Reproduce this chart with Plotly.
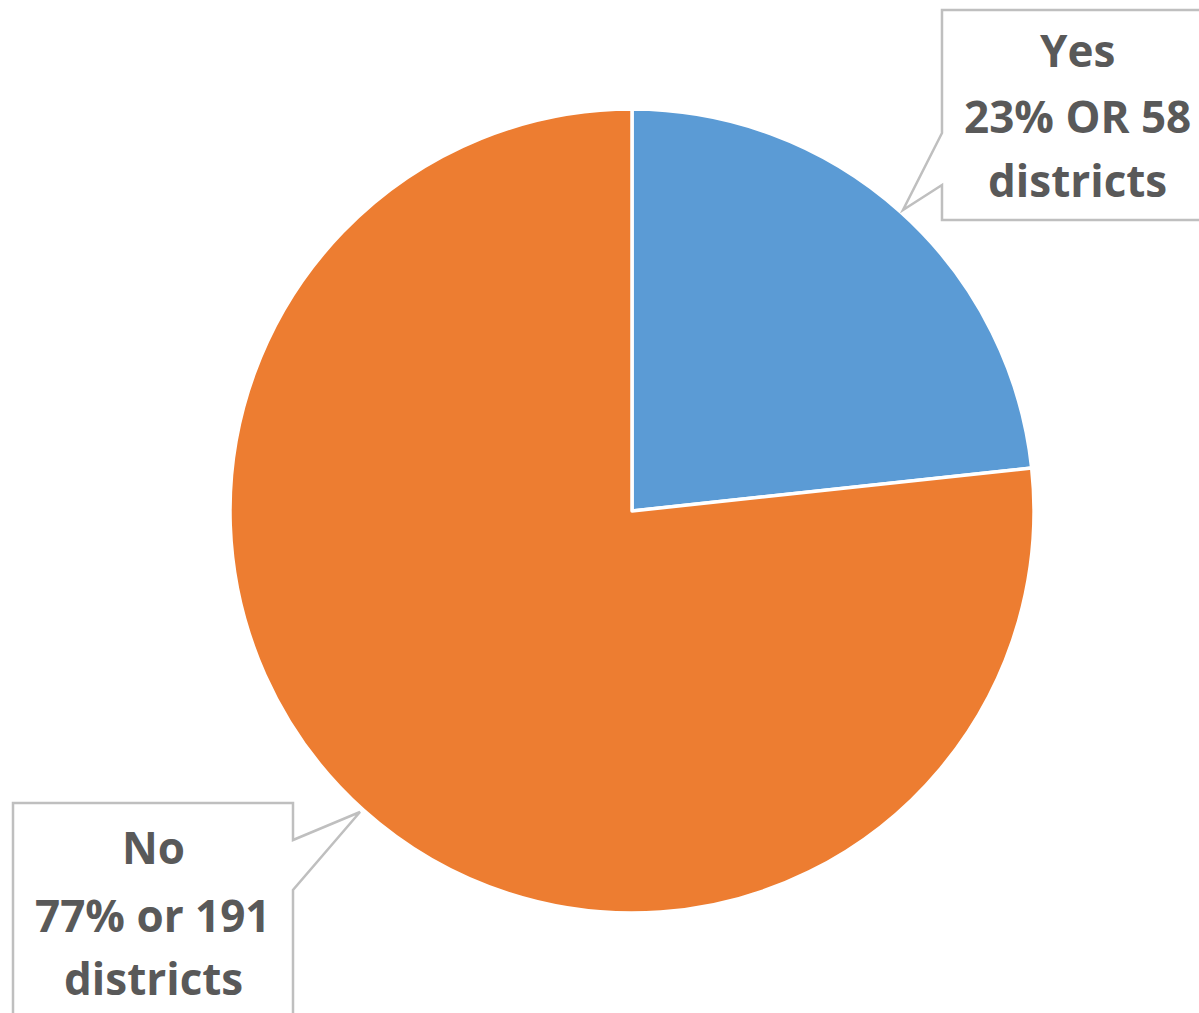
import plotly.graph_objects as go

labels = ["Yes", "No"]
values = [58, 191]
percents = ["23%", "77%"]
joiners = ["OR", "or"]
colors = ["#5B9BD5", "#ED7D31"]

W, H = 1199, 1013
cx, cy, r = 632, 511, 402

def px(x):
    return x / W

def py(y):
    return 1 - y / H

fig = go.Figure(go.Pie(
    labels=labels, values=values, sort=False, direction="clockwise", rotation=0,
    marker=dict(colors=colors, line=dict(color="white", width=3.5)),
    textinfo="none", hoverinfo="label+value+percent", showlegend=False,
    domain=dict(x=[(cx - r) / W, (cx + r) / W], y=[(H - cy - r) / H, (H - cy + r) / H]),
))

def path(points):
    return "M " + " L ".join(f"{px(x):.5f},{py(y):.5f}" for x, y in points) + " Z"

yes_box = [(942, 10), (1212, 10), (1212, 220), (942, 220), (942, 185), (903, 210), (942, 133)]
no_box = [(13, 803), (293, 803), (293, 840), (360, 812), (293, 890), (293, 1025), (13, 1025)]

shapes = []
for pts in (yes_box, no_box):
    shapes.append(dict(type="path", xref="paper", yref="paper", path=path(pts),
                       line=dict(color="#BFBFBF", width=2.5), fillcolor="white", layer="above"))

font = dict(family="Open Sans, sans-serif", size=44, color="#595959", weight="bold")
line_sets = [
    [labels[0], f"{percents[0]} {joiners[0]} {values[0]}", "districts"],
    [labels[1], f"{percents[1]} {joiners[1]} {values[1]}", "districts"],
]
centers_x = [1077, 153]
line_y = [[50, 116, 180], [847, 915, 978]]
annotations = []
for lines, x, ys in zip(line_sets, centers_x, line_y):
    for t, y in zip(lines, ys):
        annotations.append(dict(text=t, x=px(x), y=py(y), xref="paper", yref="paper",
                                showarrow=False, font=font, align="center",
                                xanchor="center", yanchor="middle"))

fig.update_layout(width=W, height=H, margin=dict(l=0, r=0, t=0, b=0),
                  paper_bgcolor="white", plot_bgcolor="white",
                  shapes=shapes, annotations=annotations)
fig.write_html("out.html", config={"displayModeBar": False},
               post_script="document.body.style.margin='0';")
